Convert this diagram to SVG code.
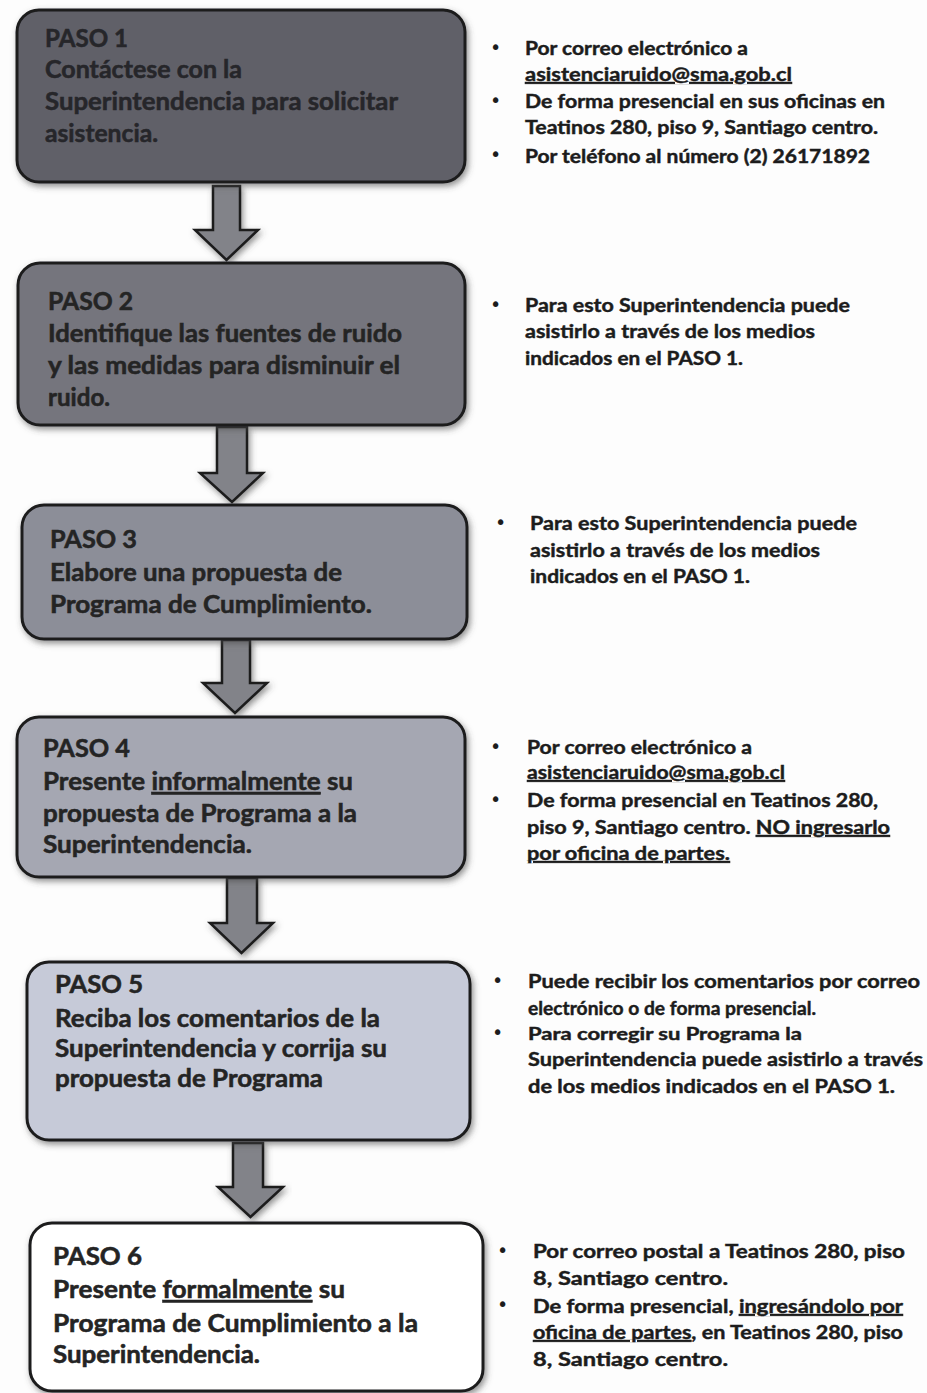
<svg xmlns="http://www.w3.org/2000/svg" width="927" height="1393" viewBox="0 0 927 1393">
<style>
.box{stroke:#1c1c1e;stroke-width:3}
.bt{font-family:Lato,"Liberation Sans",sans-serif;font-weight:700;font-size:25px;fill:#242424;stroke:#242424;stroke-width:0.55}
.rt{font-family:Lato,"Liberation Sans",sans-serif;font-weight:700;font-size:19px;fill:#1c1c1c;stroke:#1c1c1c;stroke-width:0.45}
.bu{font-family:"DejaVu Sans",sans-serif;font-size:19px;fill:#1c1c1c}
.arr{fill:#828389;stroke:#1c1c1e;stroke-width:2.5;stroke-linejoin:miter}
.u{text-decoration:underline}
</style>
<defs>
<filter id="sh" x="-10%" y="-10%" width="120%" height="125%">
<feDropShadow dx="2" dy="3" stdDeviation="3" flood-color="#4a4a4a" flood-opacity="0.6"/>
</filter>
</defs>
<rect width="927" height="1393" fill="#fdfdfd"/>

<g id="connectors" filter="url(#sh)">
<path class="arr" d="M213,186 H240 V230 H258 L226.5,260 L195,230 H213 Z"/>
<path class="arr" d="M217,427 H247 V473 H263 L232,502 L200,473 H217 Z"/>
<path class="arr" d="M222,640 H250 V683 H267 L235,713 L203,683 H222 Z"/>
<path class="arr" d="M227,878 H257 V923 H273 L241.5,953 L210,923 H227 Z"/>
<path class="arr" d="M233,1143 H263 V1187 H283 L250.5,1217 L218,1187 H233 Z"/>
</g>

<g id="paso1">
<rect class="box" x="17" y="10" width="448" height="172" rx="22" fill="#606068" filter="url(#sh)"/>
<text class="bt" style="fill:#26262a;stroke:#26262a" x="45" y="47" textLength="83" lengthAdjust="spacingAndGlyphs">PASO 1</text>
<text class="bt" style="fill:#26262a;stroke:#26262a" x="45" y="78" textLength="197" lengthAdjust="spacingAndGlyphs">Contáctese con la</text>
<text class="bt" style="fill:#26262a;stroke:#26262a" x="45" y="110" textLength="353" lengthAdjust="spacingAndGlyphs">Superintendencia para solicitar</text>
<text class="bt" style="fill:#26262a;stroke:#26262a" x="45" y="142" textLength="113" lengthAdjust="spacingAndGlyphs">asistencia.</text>
</g>

<g id="paso2">
<rect class="box" x="18" y="263" width="447" height="162" rx="22" fill="#74757d" filter="url(#sh)"/>
<text class="bt" x="48" y="310" textLength="85" lengthAdjust="spacingAndGlyphs">PASO 2</text>
<text class="bt" x="48" y="342" textLength="354" lengthAdjust="spacingAndGlyphs">Identifique las fuentes de ruido</text>
<text class="bt" x="48" y="374" textLength="352" lengthAdjust="spacingAndGlyphs">y las medidas para disminuir el</text>
<text class="bt" x="48" y="406" textLength="62" lengthAdjust="spacingAndGlyphs">ruido.</text>
</g>

<g id="paso3">
<rect class="box" x="22" y="505" width="445" height="134" rx="22" fill="#8c8e98" filter="url(#sh)"/>
<text class="bt" x="50" y="548" textLength="87" lengthAdjust="spacingAndGlyphs">PASO 3</text>
<text class="bt" x="50" y="581" textLength="292" lengthAdjust="spacingAndGlyphs">Elabore una propuesta de</text>
<text class="bt" x="50" y="613" textLength="322" lengthAdjust="spacingAndGlyphs">Programa de Cumplimiento.</text>
</g>

<g id="paso4">
<rect class="box" x="17" y="717" width="448" height="160" rx="22" fill="#a5a7b2" filter="url(#sh)"/>
<text class="bt" x="43" y="757" textLength="87" lengthAdjust="spacingAndGlyphs">PASO 4</text>
<text class="bt" x="43" y="790" textLength="310" lengthAdjust="spacingAndGlyphs">Presente <tspan class="u">informalmente</tspan> su</text>
<text class="bt" x="43" y="822" textLength="314" lengthAdjust="spacingAndGlyphs">propuesta de Programa a la</text>
<text class="bt" x="43" y="853" textLength="209" lengthAdjust="spacingAndGlyphs">Superintendencia.</text>
</g>

<g id="paso5">
<rect class="box" x="27" y="962" width="443" height="178" rx="22" fill="#c6cad8" filter="url(#sh)"/>
<text class="bt" x="55" y="993" textLength="88" lengthAdjust="spacingAndGlyphs">PASO 5</text>
<text class="bt" x="55" y="1027" textLength="325" lengthAdjust="spacingAndGlyphs">Reciba los comentarios de la</text>
<text class="bt" x="55" y="1057" textLength="332" lengthAdjust="spacingAndGlyphs">Superintendencia y corrija su</text>
<text class="bt" x="55" y="1087" textLength="268" lengthAdjust="spacingAndGlyphs">propuesta de Programa</text>
</g>

<g id="paso6">
<rect class="box" x="30" y="1223" width="453" height="168" rx="22" fill="#ffffff" filter="url(#sh)"/>
<text class="bt" x="53" y="1265" textLength="89" lengthAdjust="spacingAndGlyphs">PASO 6</text>
<text class="bt" x="53" y="1298" textLength="292" lengthAdjust="spacingAndGlyphs">Presente <tspan class="u">formalmente</tspan> su</text>
<text class="bt" x="53" y="1332" textLength="365" lengthAdjust="spacingAndGlyphs">Programa de Cumplimiento a la</text>
<text class="bt" x="53" y="1363" textLength="207" lengthAdjust="spacingAndGlyphs">Superintendencia.</text>
</g>

<g id="notas1">
<text class="bu" x="490" y="54">•</text>
<text class="bu" x="490" y="107">•</text>
<text class="bu" x="490" y="161">•</text>
<text class="rt" x="525" y="55" textLength="223" lengthAdjust="spacingAndGlyphs">Por correo electrónico a</text>
<text class="rt u" x="525" y="81" textLength="267" lengthAdjust="spacingAndGlyphs">asistenciaruido@sma.gob.cl</text>
<text class="rt" x="525" y="108" textLength="360" lengthAdjust="spacingAndGlyphs">De forma presencial en sus oficinas en</text>
<text class="rt" x="525" y="134" textLength="353" lengthAdjust="spacingAndGlyphs">Teatinos 280, piso 9, Santiago centro.</text>
<text class="rt" x="525" y="163" textLength="345" lengthAdjust="spacingAndGlyphs">Por teléfono al número (2) 26171892</text>
</g>

<g id="notas2">
<text class="bu" x="490" y="311">•</text>
<text class="rt" x="525" y="312" textLength="325" lengthAdjust="spacingAndGlyphs">Para esto Superintendencia puede</text>
<text class="rt" x="525" y="338" textLength="290" lengthAdjust="spacingAndGlyphs">asistirlo a través de los medios</text>
<text class="rt" x="525" y="365" textLength="218" lengthAdjust="spacingAndGlyphs">indicados en el PASO 1.</text>
</g>

<g id="notas3">
<text class="bu" x="495" y="529">•</text>
<text class="rt" x="530" y="530" textLength="327" lengthAdjust="spacingAndGlyphs">Para esto Superintendencia puede</text>
<text class="rt" x="530" y="557" textLength="290" lengthAdjust="spacingAndGlyphs">asistirlo a través de los medios</text>
<text class="rt" x="530" y="583" textLength="220" lengthAdjust="spacingAndGlyphs">indicados en el PASO 1.</text>
</g>

<g id="notas4">
<text class="bu" x="490" y="753">•</text>
<text class="bu" x="490" y="806">•</text>
<text class="rt" x="527" y="754" textLength="225" lengthAdjust="spacingAndGlyphs">Por correo electrónico a</text>
<text class="rt u" x="527" y="779" textLength="258" lengthAdjust="spacingAndGlyphs">asistenciaruido@sma.gob.cl</text>
<text class="rt" x="527" y="807" textLength="351" lengthAdjust="spacingAndGlyphs">De forma presencial en Teatinos 280,</text>
<text class="rt" x="527" y="834" textLength="363" lengthAdjust="spacingAndGlyphs">piso 9, Santiago centro.  <tspan class="u">NO ingresarlo</tspan></text>
<text class="rt u" x="527" y="860" textLength="203" lengthAdjust="spacingAndGlyphs">por oficina de partes.</text>
</g>

<g id="notas5">
<text class="bu" x="492" y="987">•</text>
<text class="bu" x="492" y="1039">•</text>
<text class="rt" x="528" y="988" textLength="392" lengthAdjust="spacingAndGlyphs">Puede recibir los comentarios por correo</text>
<text class="rt" x="528" y="1015" textLength="288" lengthAdjust="spacingAndGlyphs">electrónico o de forma presencial.</text>
<text class="rt" x="528" y="1040" textLength="274" lengthAdjust="spacingAndGlyphs" style="font-size:16.5px">Para corregir su Programa la</text>
<text class="rt" x="528" y="1066" textLength="395" lengthAdjust="spacingAndGlyphs">Superintendencia puede asistirlo a través</text>
<text class="rt" x="528" y="1093" textLength="367" lengthAdjust="spacingAndGlyphs">de los medios indicados en el PASO 1.</text>
</g>

<g id="notas6">
<text class="bu" x="497" y="1257">•</text>
<text class="bu" x="497" y="1311">•</text>
<text class="rt" x="533" y="1258" textLength="372" lengthAdjust="spacingAndGlyphs">Por correo postal a Teatinos 280, piso</text>
<text class="rt" x="533" y="1285" textLength="195" lengthAdjust="spacingAndGlyphs">8, Santiago centro.</text>
<text class="rt" x="533" y="1313" textLength="370" lengthAdjust="spacingAndGlyphs">De forma presencial, <tspan class="u">ingresándolo por</tspan></text>
<text class="rt" x="533" y="1339" textLength="370" lengthAdjust="spacingAndGlyphs"><tspan class="u">oficina de partes</tspan>, en Teatinos 280, piso</text>
<text class="rt" x="533" y="1366" textLength="195" lengthAdjust="spacingAndGlyphs">8, Santiago centro.</text>
</g>
</svg>
